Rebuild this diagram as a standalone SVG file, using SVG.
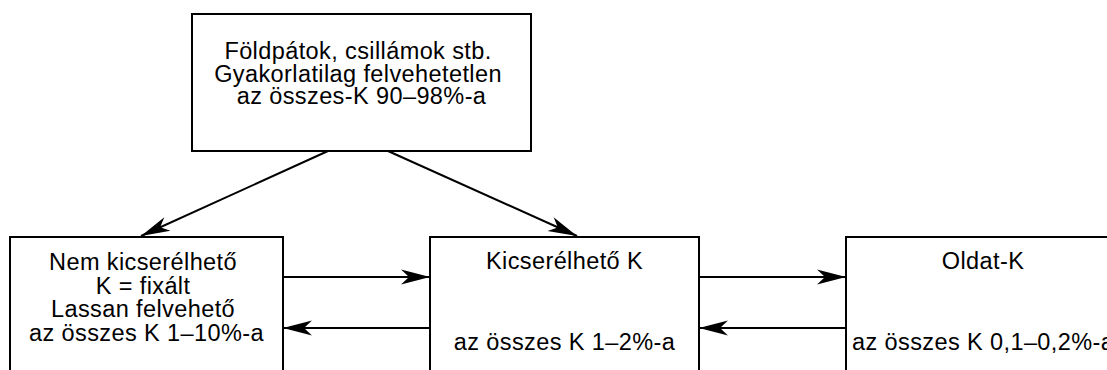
<svg xmlns="http://www.w3.org/2000/svg" width="1107" height="370" viewBox="0 0 1107 370">
  <style>
    .box { fill: #fff; stroke: #000; stroke-width: 2; }
    .lbl { font-family: "Liberation Sans", Arial, sans-serif; font-size: 23.5px; letter-spacing: 0.4px; fill: #000; text-anchor: middle; }
    .edge { fill: none; stroke: #000; stroke-width: 2; marker-end: url(#head); }
  </style>
  <defs>
    <marker id="head" markerUnits="userSpaceOnUse" markerWidth="32" markerHeight="18" viewBox="-30 -9 32 18" refX="0" refY="0" orient="auto">
      <path d="M0,0 L-29,-7.5 L-21,0 L-29,7.5 Z" fill="#000"/>
    </marker>
  </defs>
  <rect width="1107" height="370" fill="#fff"/>

  <g id="connectors">
    <line class="edge" x1="328" y1="151" x2="141" y2="236"/>
    <line class="edge" x1="388" y1="151" x2="577" y2="236"/>
    <line class="edge" x1="283" y1="277" x2="430" y2="277"/>
    <line class="edge" x1="430" y1="328" x2="283" y2="328"/>
    <line class="edge" x1="699" y1="277" x2="846" y2="277"/>
    <line class="edge" x1="846" y1="328" x2="699" y2="328"/>
  </g>

  <g id="node-feldspar">
    <rect class="box" x="192" y="14" width="339" height="137"/>
    <text class="lbl">
      <tspan x="361.5" y="59">Földpátok, csillámok stb.</tspan>
      <tspan x="361.5" y="82">Gyakorlatilag felvehetetlen</tspan>
      <tspan x="361.5" y="104">az összes-K 90–98%-a</tspan>
    </text>
  </g>

  <g id="node-fixed">
    <rect class="box" x="10" y="237" width="273" height="160"/>
    <text class="lbl">
      <tspan x="146.5" y="270">Nem kicserélhető</tspan>
      <tspan x="146.5" y="294">K = fixált</tspan>
      <tspan x="146.5" y="317">Lassan felvehető</tspan>
      <tspan x="146.5" y="341">az összes K 1–10%-a</tspan>
    </text>
  </g>

  <g id="node-exchangeable">
    <rect class="box" x="430" y="237" width="269" height="160"/>
    <text class="lbl" x="564.5" y="269">Kicserélhető K</text>
    <text class="lbl" x="564.5" y="350">az összes K 1–2%-a</text>
  </g>

  <g id="node-solution">
    <rect class="box" x="846" y="237" width="300" height="160"/>
    <text class="lbl" x="983" y="269">Oldat-K</text>
    <text class="lbl" x="852" y="350" style="text-anchor:start">az összes K 0,1–0,2%-a</text>
  </g>
</svg>
